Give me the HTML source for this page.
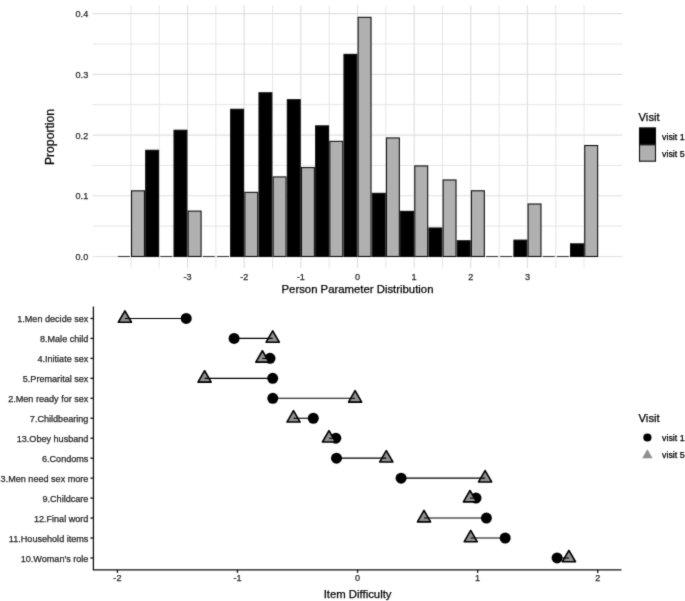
<!DOCTYPE html>
<html><head><meta charset="utf-8"><title>Chart</title>
<style>html,body{margin:0;padding:0;background:#fff;width:685px;height:601px;overflow:hidden}svg{display:block}</style>
</head><body>
<svg width="685" height="601" viewBox="0 0 685 601">
<defs><filter id="bl" color-interpolation-filters="sRGB" x="0" y="0" width="100%" height="100%"><feConvolveMatrix order="3" kernelMatrix="1 6 1 6 36 6 1 6 1" edgeMode="duplicate" preserveAlpha="true"/></filter></defs>
<g filter="url(#bl)">
<rect width="685" height="601" fill="#fff"/>
<g stroke="#e6e6e6" stroke-width="1.0" fill="none">
<line x1="159.22" y1="5.30" x2="159.22" y2="268.20"/>
<line x1="215.88" y1="5.30" x2="215.88" y2="268.20"/>
<line x1="272.52" y1="5.30" x2="272.52" y2="268.20"/>
<line x1="329.18" y1="5.30" x2="329.18" y2="268.20"/>
<line x1="385.82" y1="5.30" x2="385.82" y2="268.20"/>
<line x1="442.48" y1="5.30" x2="442.48" y2="268.20"/>
<line x1="499.12" y1="5.30" x2="499.12" y2="268.20"/>
<line x1="555.77" y1="5.30" x2="555.77" y2="268.20"/>
<line x1="92.66" y1="226.13" x2="622.34" y2="226.13"/>
<line x1="92.66" y1="165.40" x2="622.34" y2="165.40"/>
<line x1="92.66" y1="104.68" x2="622.34" y2="104.68"/>
<line x1="92.66" y1="43.94" x2="622.34" y2="43.94"/>
<line x1="130.90" y1="5.30" x2="130.90" y2="268.20"/>
<line x1="584.10" y1="5.30" x2="584.10" y2="268.20"/>
</g>
<g stroke="#e0e0e0" stroke-width="1.2" fill="none">
<line x1="187.55" y1="5.30" x2="187.55" y2="268.20"/>
<line x1="244.20" y1="5.30" x2="244.20" y2="268.20"/>
<line x1="300.85" y1="5.30" x2="300.85" y2="268.20"/>
<line x1="357.50" y1="5.30" x2="357.50" y2="268.20"/>
<line x1="414.15" y1="5.30" x2="414.15" y2="268.20"/>
<line x1="470.80" y1="5.30" x2="470.80" y2="268.20"/>
<line x1="527.45" y1="5.30" x2="527.45" y2="268.20"/>
<line x1="92.66" y1="256.50" x2="622.34" y2="256.50"/>
<line x1="92.66" y1="195.77" x2="622.34" y2="195.77"/>
<line x1="92.66" y1="135.04" x2="622.34" y2="135.04"/>
<line x1="92.66" y1="74.31" x2="622.34" y2="74.31"/>
<line x1="92.66" y1="13.58" x2="622.34" y2="13.58"/>
</g>
<g stroke="#111" stroke-width="1.1">
<line x1="117.84" y1="256.5" x2="129.80" y2="256.5" stroke="#3a3a3a"/>
<rect x="131.53" y="190.84" width="12.90" height="65.66" fill="#b0b0b0"/>
<rect x="145.69" y="150.27" width="12.90" height="106.23" fill="#000"/>
<line x1="160.32" y1="256.5" x2="172.29" y2="256.5" stroke="#3a3a3a"/>
<rect x="174.02" y="130.23" width="12.90" height="126.27" fill="#000"/>
<rect x="188.18" y="211.12" width="12.90" height="45.38" fill="#b0b0b0"/>
<line x1="202.81" y1="256.5" x2="214.78" y2="256.5" stroke="#3a3a3a"/>
<line x1="216.97" y1="256.5" x2="228.94" y2="256.5" stroke="#3a3a3a"/>
<rect x="230.67" y="109.28" width="12.90" height="147.22" fill="#000"/>
<rect x="244.83" y="192.35" width="12.90" height="64.15" fill="#b0b0b0"/>
<rect x="258.99" y="92.76" width="12.90" height="163.74" fill="#000"/>
<rect x="273.16" y="176.93" width="12.90" height="79.57" fill="#b0b0b0"/>
<rect x="287.32" y="99.68" width="12.90" height="156.82" fill="#000"/>
<rect x="301.48" y="167.58" width="12.90" height="88.92" fill="#b0b0b0"/>
<rect x="315.64" y="125.86" width="12.90" height="130.64" fill="#000"/>
<rect x="329.81" y="141.34" width="12.90" height="115.16" fill="#b0b0b0"/>
<rect x="343.97" y="54.38" width="12.90" height="202.12" fill="#000"/>
<rect x="358.13" y="17.33" width="12.90" height="239.17" fill="#b0b0b0"/>
<rect x="372.29" y="193.33" width="12.90" height="63.17" fill="#000"/>
<rect x="386.46" y="137.94" width="12.90" height="118.56" fill="#b0b0b0"/>
<rect x="400.62" y="211.36" width="12.90" height="45.14" fill="#000"/>
<rect x="414.78" y="165.94" width="12.90" height="90.56" fill="#b0b0b0"/>
<rect x="428.94" y="228.00" width="12.90" height="28.50" fill="#000"/>
<rect x="443.11" y="179.97" width="12.90" height="76.53" fill="#b0b0b0"/>
<rect x="457.27" y="240.76" width="12.90" height="15.74" fill="#000"/>
<rect x="471.43" y="190.78" width="12.90" height="65.72" fill="#b0b0b0"/>
<line x1="486.06" y1="256.5" x2="498.02" y2="256.5" stroke="#3a3a3a"/>
<line x1="500.23" y1="256.5" x2="512.19" y2="256.5" stroke="#3a3a3a"/>
<rect x="513.92" y="240.15" width="12.90" height="16.35" fill="#000"/>
<rect x="528.08" y="204.01" width="12.90" height="52.49" fill="#b0b0b0"/>
<line x1="542.71" y1="256.5" x2="554.67" y2="256.5" stroke="#3a3a3a"/>
<line x1="556.88" y1="256.5" x2="568.84" y2="256.5" stroke="#3a3a3a"/>
<rect x="570.57" y="243.85" width="12.90" height="12.65" fill="#000"/>
<rect x="584.73" y="145.53" width="12.90" height="110.97" fill="#b0b0b0"/>
</g>
<g font-family='"Liberation Sans", sans-serif' font-size="9.08" fill="#262626" stroke="#262626" stroke-width="0.25" text-anchor="end">
<text x="88.2" y="260.00">0.0</text>
<text x="88.2" y="199.27">0.1</text>
<text x="88.2" y="138.54">0.2</text>
<text x="88.2" y="77.81">0.3</text>
<text x="88.2" y="17.08">0.4</text>
</g>
<g font-family='"Liberation Sans", sans-serif' font-size="9.08" fill="#262626" stroke="#262626" stroke-width="0.25" text-anchor="middle">
<text x="187.55" y="279.9">-3</text>
<text x="244.20" y="279.9">-2</text>
<text x="300.85" y="279.9">-1</text>
<text x="357.50" y="279.9">0</text>
<text x="414.15" y="279.9">1</text>
<text x="470.80" y="279.9">2</text>
<text x="527.45" y="279.9">3</text>
</g>
<text x="357.5" y="293" font-family='"Liberation Sans", sans-serif' font-size="11.35" fill="#000" stroke="#000" stroke-width="0.25" text-anchor="middle">Person Parameter Distribution</text>
<text transform="translate(54.2,137) rotate(-90)" x="0" y="0" font-family='"Liberation Sans", sans-serif' font-size="12.2" fill="#000" stroke="#000" stroke-width="0.25" text-anchor="middle">Proportion</text>
<text x="638.5" y="120.7" font-family='"Liberation Sans", sans-serif' font-size="11.35" fill="#000" stroke="#000" stroke-width="0.25">Visit</text>
<rect x="639.5" y="127.9" width="16" height="16.4" fill="#000" stroke="#111" stroke-width="1.1"/>
<rect x="639.5" y="144.8" width="16" height="16.4" fill="#b0b0b0" stroke="#111" stroke-width="1.1"/>
<text x="662" y="139.8" font-family='"Liberation Sans", sans-serif' font-size="8.85" fill="#000" stroke="#000" stroke-width="0.25">visit 1</text>
<text x="662" y="157.1" font-family='"Liberation Sans", sans-serif' font-size="8.85" fill="#000" stroke="#000" stroke-width="0.25">visit 5</text>
<g fill="#000">
<circle cx="186.2" cy="318.45" r="5.5"/>
<circle cx="234.1" cy="338.41" r="5.5"/>
<circle cx="270.0" cy="358.37" r="5.5"/>
<circle cx="272.7" cy="378.33" r="5.5"/>
<circle cx="272.8" cy="398.29" r="5.5"/>
<circle cx="313.3" cy="418.25" r="5.5"/>
<circle cx="335.8" cy="438.21" r="5.5"/>
<circle cx="336.5" cy="458.17" r="5.5"/>
<circle cx="401.1" cy="478.13" r="5.5"/>
<circle cx="476.0" cy="498.09" r="5.5"/>
<circle cx="486.4" cy="518.05" r="5.5"/>
<circle cx="505.2" cy="538.01" r="5.5"/>
<circle cx="557.1" cy="557.97" r="5.5"/>
</g>
<g fill="#909090" stroke="#000" stroke-width="1.6" stroke-linejoin="round">
<path d="M124.90 310.85L131.48 322.25L118.32 322.25Z"/>
<path d="M272.70 330.81L279.28 342.21L266.12 342.21Z"/>
<path d="M262.40 350.77L268.98 362.17L255.82 362.17Z"/>
<path d="M204.60 370.73L211.18 382.13L198.02 382.13Z"/>
<path d="M355.10 390.69L361.68 402.09L348.52 402.09Z"/>
<path d="M293.50 410.65L300.08 422.05L286.92 422.05Z"/>
<path d="M329.00 430.61L335.58 442.01L322.42 442.01Z"/>
<path d="M386.30 450.57L392.88 461.97L379.72 461.97Z"/>
<path d="M485.10 470.53L491.68 481.93L478.52 481.93Z"/>
<path d="M470.00 490.49L476.58 501.89L463.42 501.89Z"/>
<path d="M424.00 510.45L430.58 521.85L417.42 521.85Z"/>
<path d="M470.70 530.41L477.28 541.81L464.12 541.81Z"/>
<path d="M568.90 550.37L575.48 561.77L562.32 561.77Z"/>
</g>
<g stroke="#000" stroke-width="1.1">
<line x1="186.2" y1="318.45" x2="124.9" y2="318.45"/>
<line x1="234.1" y1="338.41" x2="272.7" y2="338.41"/>
<line x1="270.0" y1="358.37" x2="262.4" y2="358.37"/>
<line x1="272.7" y1="378.33" x2="204.6" y2="378.33"/>
<line x1="272.8" y1="398.29" x2="355.1" y2="398.29"/>
<line x1="313.3" y1="418.25" x2="293.5" y2="418.25"/>
<line x1="335.8" y1="438.21" x2="329.0" y2="438.21"/>
<line x1="336.5" y1="458.17" x2="386.3" y2="458.17"/>
<line x1="401.1" y1="478.13" x2="485.1" y2="478.13"/>
<line x1="476.0" y1="498.09" x2="470.0" y2="498.09"/>
<line x1="486.4" y1="518.05" x2="424.0" y2="518.05"/>
<line x1="505.2" y1="538.01" x2="470.7" y2="538.01"/>
<line x1="557.1" y1="557.97" x2="568.9" y2="557.97"/>
</g>
<g stroke="#111" stroke-width="1.3" fill="none">
<path d="M93.4 306.4V569.9H621.5"/>
<line x1="90.4" y1="318.45" x2="93.4" y2="318.45"/>
<line x1="90.4" y1="338.41" x2="93.4" y2="338.41"/>
<line x1="90.4" y1="358.37" x2="93.4" y2="358.37"/>
<line x1="90.4" y1="378.33" x2="93.4" y2="378.33"/>
<line x1="90.4" y1="398.29" x2="93.4" y2="398.29"/>
<line x1="90.4" y1="418.25" x2="93.4" y2="418.25"/>
<line x1="90.4" y1="438.21" x2="93.4" y2="438.21"/>
<line x1="90.4" y1="458.17" x2="93.4" y2="458.17"/>
<line x1="90.4" y1="478.13" x2="93.4" y2="478.13"/>
<line x1="90.4" y1="498.09" x2="93.4" y2="498.09"/>
<line x1="90.4" y1="518.05" x2="93.4" y2="518.05"/>
<line x1="90.4" y1="538.01" x2="93.4" y2="538.01"/>
<line x1="90.4" y1="557.97" x2="93.4" y2="557.97"/>
<line x1="117.41" y1="569.9" x2="117.41" y2="572.9"/>
<line x1="237.48" y1="569.9" x2="237.48" y2="572.9"/>
<line x1="357.55" y1="569.9" x2="357.55" y2="572.9"/>
<line x1="477.62" y1="569.9" x2="477.62" y2="572.9"/>
<line x1="597.69" y1="569.9" x2="597.69" y2="572.9"/>
</g>
<g font-family='"Liberation Sans", sans-serif' font-size="9.08" fill="#262626" stroke="#262626" stroke-width="0.25" text-anchor="end">
<text x="88.4" y="322.05">1.Men decide sex</text>
<text x="88.4" y="342.01">8.Male child</text>
<text x="88.4" y="361.97">4.Initiate sex</text>
<text x="88.4" y="381.93">5.Premarital sex</text>
<text x="88.4" y="401.89">2.Men ready for sex</text>
<text x="88.4" y="421.85">7.Childbearing</text>
<text x="88.4" y="441.81">13.Obey husband</text>
<text x="88.4" y="461.77">6.Condoms</text>
<text x="88.4" y="481.73">3.Men need sex more</text>
<text x="88.4" y="501.69">9.Childcare</text>
<text x="88.4" y="521.65">12.Final word</text>
<text x="88.4" y="541.61">11.Household items</text>
<text x="88.4" y="561.57">10.Woman&#39;s role</text>
</g>
<g font-family='"Liberation Sans", sans-serif' font-size="9.08" fill="#262626" stroke="#262626" stroke-width="0.25" text-anchor="middle">
<text x="117.41" y="581.2">-2</text>
<text x="237.48" y="581.2">-1</text>
<text x="357.55" y="581.2">0</text>
<text x="477.62" y="581.2">1</text>
<text x="597.69" y="581.2">2</text>
</g>
<text x="357.6" y="597.8" font-family='"Liberation Sans", sans-serif' font-size="11.35" fill="#000" stroke="#000" stroke-width="0.25" text-anchor="middle">Item Difficulty</text>
<text x="638.5" y="421.8" font-family='"Liberation Sans", sans-serif' font-size="11.35" fill="#000" stroke="#000" stroke-width="0.25">Visit</text>
<circle cx="647.4" cy="437.5" r="4.1" fill="#000"/>
<path d="M647.4 449.3L652.6 458.2L642.2 458.2Z" fill="#909090"/>
<text x="662" y="441" font-family='"Liberation Sans", sans-serif' font-size="8.85" fill="#000" stroke="#000" stroke-width="0.25">visit 1</text>
<text x="662" y="458.3" font-family='"Liberation Sans", sans-serif' font-size="8.85" fill="#000" stroke="#000" stroke-width="0.25">visit 5</text>
</g>
</svg>
</body></html>
